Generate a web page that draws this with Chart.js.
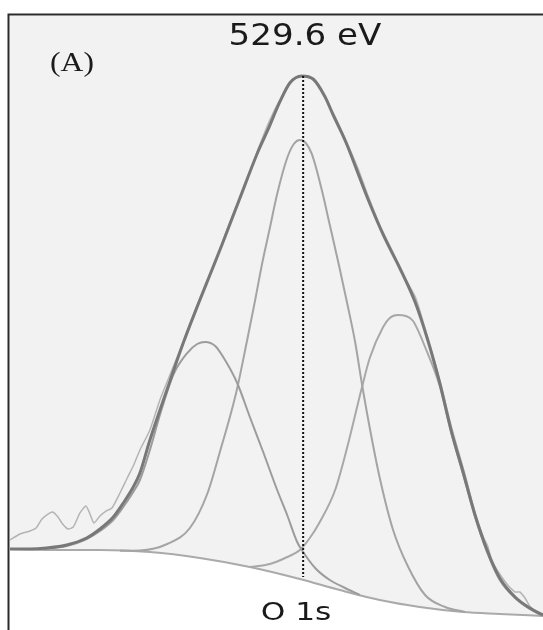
<!DOCTYPE html>
<html>
<head>
<meta charset="utf-8">
<script src="https://cdn.jsdelivr.net/npm/chart.js@4/dist/chart.umd.min.js"></script>
<style>
  html, body { margin: 0; padding: 0; background: #fff; }
  canvas { display: block; }
</style>
</head>
<body>
<canvas id="xps" width="543" height="630"></canvas>
<script>
// O 1s spectrum, binding energy (eV) vs intensity (a.u.)

// measured spectrum (noisy trace)
const expEnergy = [534.00, 533.85, 533.70, 533.61, 533.52, 533.43, 533.36, 533.28, 533.21, 533.13, 533.05,
  532.95, 532.86, 532.80, 532.74, 532.65, 532.56, 532.47, 532.35, 532.24, 532.15, 532.05, 531.90, 531.75,
  531.60, 531.40, 531.15, 530.92, 530.70, 530.47, 530.28, 530.10, 529.92, 529.77, 529.62, 529.47, 529.32,
  529.14, 528.96, 528.78, 528.63, 528.45, 528.27, 528.09, 527.91, 527.73, 527.55, 527.37, 527.19, 527.01,
  526.89, 526.83, 526.77, 526.65, 526.53, 526.42, 526.35, 526.27, 526.20, 526.09, 526.00];
const expCounts = [14.66, 15.64, 16.12, 16.61, 18.08, 18.89, 19.22, 18.40, 17.26, 16.45, 16.78,
  19.06, 20.20, 18.89, 17.43, 18.57, 19.38, 19.87, 22.31, 24.76, 26.71, 29.32, 32.57, 37.46,
  41.53, 46.91, 54.07, 59.94, 66.45, 72.48, 78.18, 83.06, 86.97, 89.58, 90.23, 89.74, 87.62,
  84.04, 79.81, 75.25, 70.85, 65.96, 61.89, 57.66, 54.07, 47.56, 40.72, 32.90, 26.06, 18.73,
  14.98, 13.68, 11.40, 9.12, 7.33, 6.19, 6.19, 5.21, 3.91, 2.93, 2.61];

// total fit (envelope)
const fitEnergy = [534.00, 533.70, 533.45, 533.15, 532.85, 532.65, 532.45, 532.30, 532.15, 532.05, 531.90,
  531.64, 531.40, 531.15, 531.00, 530.82, 530.56, 530.28, 530.13, 529.95, 529.80, 529.62, 529.45, 529.27,
  529.15, 528.96, 528.64, 528.39, 528.15, 527.92, 527.73, 527.55, 527.38, 527.20, 527.02, 526.84, 526.65,
  526.42, 526.20, 526.00];
const fitCounts = [13.19, 13.19, 13.36, 13.84, 14.98, 16.45, 18.40, 20.68, 23.29, 25.57, 30.95,
  39.25, 46.74, 53.75, 57.82, 62.70, 70.03, 77.85, 81.44, 86.00, 89.09, 90.23, 89.74, 86.81,
  83.88, 79.48, 70.52, 64.17, 58.96, 53.42, 47.23, 40.23, 32.57, 25.73, 18.73, 13.03, 8.47,
  5.37, 3.58, 2.44];

// component 1 (high binding energy side)
const peak1Energy = [533.55, 533.15, 532.85, 532.65, 532.45, 532.30, 532.15, 532.05, 531.90, 531.75, 531.55,
  531.34, 531.19, 531.07, 530.92, 530.80, 530.59, 530.40, 530.20, 529.99, 529.84, 529.69, 529.62, 529.42,
  529.20, 528.97, 528.75];
const peak1Counts = [13.19, 13.68, 14.82, 16.12, 17.92, 20.03, 22.48, 24.43, 29.32, 35.02, 41.53,
  45.11, 46.58, 46.91, 46.26, 44.46, 40.23, 34.69, 28.99, 22.80, 18.73, 14.33, 13.03, 10.10,
  8.14, 6.84, 5.70];

// component 2 (main lattice oxygen, 529.6 eV)
const peak2Energy = [532.35, 532.05, 531.64, 531.30, 531.04, 530.85, 530.61, 530.44, 530.32, 530.22, 530.10,
  529.99, 529.84, 529.74, 529.65, 529.56, 529.47, 529.32, 529.20, 529.06, 528.94, 528.82, 528.72, 528.60,
  528.45, 528.25, 528.03, 527.77, 527.47, 527.17];
const peak2Counts = [12.90, 12.95, 14.01, 16.61, 22.15, 28.99, 38.44, 47.23, 53.75, 59.45, 65.47,
  71.01, 76.87, 79.15, 79.81, 79.32, 77.53, 71.66, 65.96, 59.28, 53.26, 46.91, 40.23, 32.90,
  24.76, 16.29, 10.42, 5.70, 3.75, 2.93];

// component 3 (low binding energy side)
const peak3Energy = [530.40, 530.10, 529.87, 529.65, 529.50, 529.35, 529.12, 528.93, 528.72, 528.60, 528.40,
  528.30, 528.18, 528.06, 527.95, 527.74, 527.55, 527.38, 527.20, 527.02, 526.84, 526.65, 526.42, 526.20,
  526.00];
const peak3Counts = [10.26, 10.75, 11.73, 13.03, 14.98, 17.59, 22.80, 30.13, 39.41, 44.30, 49.35,
  50.82, 51.30, 51.14, 50.33, 45.28, 39.74, 32.25, 25.41, 18.40, 12.70, 8.14, 5.21, 3.42,
  2.28];

// Shirley background
const bgEnergy = [534.00, 533.25, 532.65, 531.90, 531.15, 530.40, 529.65, 529.05, 528.45, 527.85, 527.20,
  526.65, 526.00];
const bgCounts = [13.19, 13.03, 13.03, 12.70, 11.73, 10.26, 8.31, 6.51, 4.89, 3.75, 2.93, 2.61, 2.28];

// peak position marker
const markerEnergy = [529.6, 529.6];
const markerCounts = [90.23, 8.63];

const toPoints = (xs, ys) => xs.map((x, i) => ({ x: x, y: ys[i] }));

const decorations = {
  id: 'decorations',
  beforeDraw(chart) {
    const { ctx, chartArea: a } = chart;
    ctx.save();
    ctx.fillStyle = '#ffffff';
    ctx.fillRect(0, 0, chart.width, chart.height);
    ctx.fillStyle = '#f2f2f2';
    ctx.fillRect(a.left, a.top, a.right - a.left, a.bottom - a.top);
    ctx.restore();
  },
  afterDraw(chart) {
    const ctx = chart.ctx;
    ctx.save();
    // frame
    ctx.strokeStyle = '#2b2b2b';
    ctx.lineWidth = 2;
    ctx.beginPath();
    ctx.moveTo(8.5, 630);
    ctx.lineTo(8.5, 14.5);
    ctx.lineTo(543, 14.5);
    ctx.stroke();

    ctx.fillStyle = '#1a1a1a';
    ctx.textAlign = 'center';
    ctx.textBaseline = 'alphabetic';
    const label = (text, font, cx, y, sx) => {
      ctx.save();
      ctx.translate(cx, y);
      ctx.scale(sx, 1);
      ctx.font = font;
      ctx.fillText(text, 0, 0);
      ctx.restore();
    };
    label('529.6 eV', '31px "DejaVu Sans"', 305, 45, 1.1);
    label('(A)', '27px "Liberation Serif"', 72, 71, 1.17);
    label('O 1s', '25px "DejaVu Sans"', 296, 620, 1.25);
    ctx.restore();
  }
};

const smooth = { cubicInterpolationMode: 'monotone', pointRadius: 0, fill: false };

new Chart(document.getElementById('xps'), {
  type: 'line',
  data: {
    datasets: [
      { label: 'Marker', data: toPoints(markerEnergy, markerCounts), borderColor: '#111111',
        borderWidth: 2, borderDash: [2, 2], pointRadius: 0, fill: false, tension: 0 },
      { label: 'Fit', data: toPoints(fitEnergy, fitCounts), borderColor: '#787878', borderWidth: 3, ...smooth },
      { label: 'Measured', data: toPoints(expEnergy, expCounts), borderColor: '#b4b4b4', borderWidth: 1.5,
        pointRadius: 0, fill: false, tension: 0.2 },
      { label: 'Peak 1', data: toPoints(peak1Energy, peak1Counts), borderColor: '#9c9c9c', borderWidth: 2, ...smooth },
      { label: 'Peak 2', data: toPoints(peak2Energy, peak2Counts), borderColor: '#a4a4a4', borderWidth: 2, ...smooth },
      { label: 'Peak 3', data: toPoints(peak3Energy, peak3Counts), borderColor: '#a8a8a8', borderWidth: 2, ...smooth },
      { label: 'Background', data: toPoints(bgEnergy, bgCounts), borderColor: '#aaaaaa', borderWidth: 2,
        cubicInterpolationMode: 'monotone', pointRadius: 0, fill: 'start', backgroundColor: '#ffffff' }
    ]
  },
  options: {
    responsive: false,
    animation: false,
    layout: { padding: { left: 10, top: 16, right: 0, bottom: 0 } },
    plugins: { legend: { display: false }, tooltip: { enabled: false } },
    scales: {
      x: { type: 'linear', min: 526, max: 534, reverse: true, display: false },
      y: { min: 0, max: 100, display: false }
    }
  },
  plugins: [decorations]
});
</script>
</body>
</html>
